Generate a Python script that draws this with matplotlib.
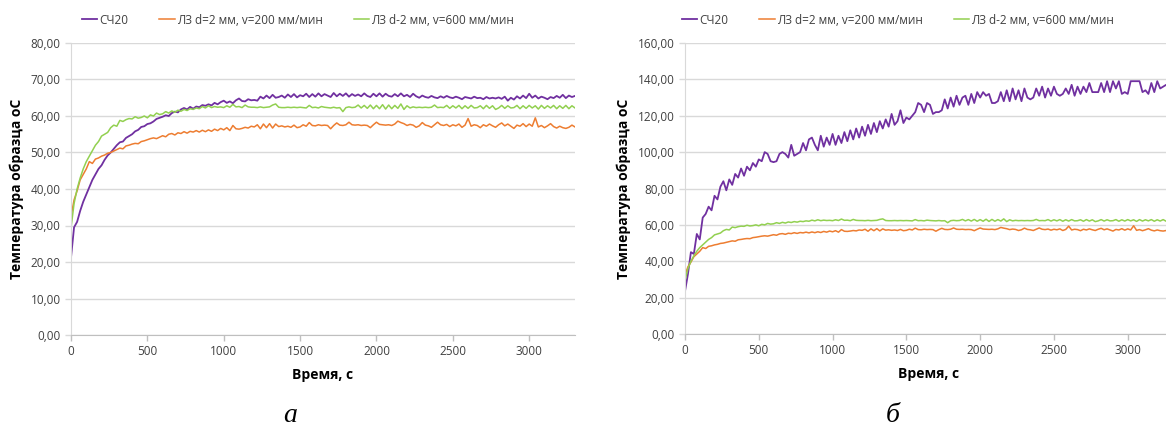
import numpy as np
import matplotlib
matplotlib.use("Agg")
import matplotlib.pyplot as plt
from matplotlib.ticker import FuncFormatter, MultipleLocator

# time of each sample, s
time_s = np.arange(0, 3301, 20)

# cast iron sample, series a
sch20_a = [
    21.2, 29.5, 31.0, 34.0, 36.5, 38.5, 40.5, 42.5, 44.0, 45.5,
    46.5, 48.0, 49.2, 50.0, 51.0, 52.0, 52.8, 53.0, 54.0, 54.5,
    55.0, 55.8, 56.2, 57.0, 57.2, 57.8, 58.0, 58.5, 59.2, 59.5,
    59.8, 60.2, 60.0, 60.8, 61.2, 61.0, 61.8, 62.2, 61.8, 62.5,
    62.0, 62.6, 62.4, 63.0, 62.8, 63.2, 62.9, 63.6, 63.2, 63.8,
    64.2, 63.6, 64.0, 63.5, 64.3, 64.8, 64.1, 64.0, 64.6, 64.3,
    64.4, 64.2, 65.3, 64.8, 65.6, 64.9, 65.8, 65.0, 65.2, 65.6,
    65.0, 65.9, 65.2, 66.0, 65.1, 65.7, 65.4, 66.1, 65.2, 66.0,
    65.3, 66.2, 65.4, 66.0, 65.6, 65.2, 66.3, 65.4, 66.1, 65.5,
    66.2, 65.3, 66.0, 65.5, 65.9, 65.4, 66.2, 65.5, 65.2, 66.1,
    65.4, 66.2, 65.3, 66.1, 65.5, 65.3, 66.0, 65.4, 66.2, 65.4,
    65.8, 65.2, 66.1, 65.4, 65.0, 65.6, 65.2, 65.0, 65.5, 65.1,
    64.9, 65.4, 65.0, 65.5, 65.1, 64.9, 65.3, 65.0, 64.6, 65.2,
    65.0, 64.8, 65.3, 64.9, 65.0, 64.6, 65.2, 64.8, 65.0, 64.8,
    65.1, 64.7, 65.3, 64.2, 65.0, 64.5, 65.4, 64.8, 65.6, 64.9,
    66.1, 65.0, 65.6, 64.8, 65.3, 65.0, 64.6, 65.2, 64.9, 65.5,
    65.0, 65.8, 64.9, 65.6, 65.2, 65.5,
]

# cast iron sample, series b
sch20_b = [
    23.5, 33.0, 45.0, 44.0, 55.0, 52.0, 64.0, 66.0, 70.0, 68.0,
    76.0, 74.0, 81.0, 84.0, 79.0, 85.0, 82.0, 88.0, 86.0, 91.0,
    87.0, 92.0, 90.0, 94.0, 92.0, 96.0, 95.0, 100.0, 99.0, 95.0,
    94.5, 95.0, 99.0, 100.0, 99.0, 97.0, 104.0, 98.0, 99.0, 100.0,
    105.0, 101.0, 107.0, 108.0, 104.0, 101.0, 109.0, 103.0, 108.0, 104.0,
    110.0, 104.0, 109.0, 105.0, 111.0, 106.0, 112.0, 107.0, 113.0, 108.0,
    114, 109, 115, 110, 116, 111, 117, 113, 118, 114,
    121, 115, 117, 123, 116, 119, 118, 120, 122, 127,
    126, 122, 127, 126, 121, 122, 122, 123, 129, 124,
    130, 125, 131, 126, 130, 131, 126, 132, 127, 133,
    130, 133, 131, 132, 127, 127, 128, 133, 128, 134,
    128, 135, 129, 134, 128, 135, 130, 129, 130, 135,
    131, 136, 130, 135, 131, 136, 132, 131, 132, 135,
    132, 137, 131, 136, 132, 136, 133, 138, 133, 133,
    133, 138, 133, 139, 133, 139, 135, 139, 132, 133,
    132, 139, 139, 139, 139, 133, 134, 132, 138, 133,
    139, 135, 136, 137, 135, 136,
]

# laser hardened, v = 200 mm/min
lz_200 = [
    32.4, 37.0, 39.5, 42.5, 44.0, 45.5, 47.5, 47.0, 48.2, 48.5,
    49.0, 49.3, 49.8, 50.0, 50.4, 50.8, 51.2, 51.0, 51.8, 52.0,
    52.3, 52.5, 52.4, 53.0, 53.2, 53.5, 53.8, 54.0, 53.8, 54.2,
    54.6, 54.3, 55.0, 55.2, 54.8, 55.4, 55.2, 55.7, 55.3, 55.8,
    55.6, 56.0, 55.6, 56.1, 55.7, 56.2, 55.8, 56.4, 56.0, 56.6,
    56.2, 56.8, 56.0, 57.4, 56.5, 56.4, 56.6, 56.9, 56.7, 57.2,
    57.0, 57.6, 56.5, 57.8, 56.8, 57.9, 56.7, 57.8, 57.1, 57.3,
    57.0, 57.2, 56.9, 57.5, 56.8, 57.0, 57.6, 57.2, 58.2, 57.4,
    57.3, 57.6, 57.4, 57.5, 57.4, 56.5, 57.4, 58.1, 57.5, 57.4,
    57.6, 58.3, 57.6, 57.5, 57.6, 57.4, 57.5, 57.4, 56.8, 57.6,
    58.3, 57.7, 57.6, 57.5, 57.6, 57.4, 57.8, 58.6, 58.2, 57.9,
    57.4, 57.7, 57.5, 56.9, 57.3, 58.2, 57.5, 57.3, 56.9, 57.6,
    58.3, 57.6, 57.4, 57.7, 57.1, 57.6, 57.3, 57.8, 56.9, 57.5,
    59.3, 57.2, 57.6, 57.4, 56.8, 57.6, 57.2, 57.8, 57.3, 56.9,
    57.6, 58.1, 57.3, 57.8, 57.2, 56.6, 57.5, 57.2, 57.9, 57.1,
    57.8, 57.2, 59.5, 57.0, 57.4, 56.8, 57.3, 57.9, 57.1, 56.7,
    57.2, 56.8, 56.6, 56.9, 57.5, 57.0,
]

# laser hardened, v = 600 mm/min
lz_600 = [
    29.3, 36.0, 40.0, 43.0, 45.5, 47.5, 49.0, 50.5, 52.0, 53.0,
    54.5, 55.0, 55.5, 56.8, 57.5, 57.2, 58.8, 58.5, 59.0, 59.3,
    59.2, 59.8, 59.4, 59.6, 60.0, 59.5, 60.3, 60.0, 60.8, 60.4,
    60.6, 61.2, 60.8, 61.4, 61.0, 61.6, 61.3, 61.8, 61.5, 62.0,
    61.8, 62.2, 62.0, 62.6, 62.2, 62.8, 62.3, 62.6, 62.4, 62.5,
    62.3, 62.8, 62.4, 63.2, 62.5, 62.6, 62.3, 63.0, 62.5, 62.4,
    62.4, 62.3, 62.5, 62.3, 62.4, 62.5, 63.0, 63.3, 62.4, 62.3,
    62.3, 62.4, 62.3, 62.4, 62.3, 62.4, 62.3, 62.2, 62.9, 62.3,
    62.4, 62.2, 62.6, 62.4, 62.3, 62.2, 62.4, 62.2, 62.3, 61.2,
    62.3, 62.5, 62.3, 62.4, 63.0, 62.2, 62.9, 62.1, 63.0, 62.0,
    62.9, 62.0, 63.1, 61.9, 63.0, 62.0, 62.9, 62.1, 63.3, 61.8,
    62.8, 62.2, 62.5, 62.3, 62.4, 62.3, 62.4, 62.3, 62.4, 63.0,
    62.3, 62.4, 62.3, 62.9, 62.1, 62.8, 62.2, 62.9, 62.0, 62.8,
    62.1, 62.9, 62.2, 62.3, 62.8, 62.0, 62.9, 62.1, 62.8, 61.8,
    62.2, 62.9, 62.1, 62.8, 62.2, 62.3, 62.9, 62.0, 62.8, 62.1,
    62.9, 62.2, 62.8, 61.9, 62.9, 62.1, 62.8, 62.2, 62.9, 62.0,
    62.8, 62.1, 62.9, 62.0, 62.8, 62.2,
]

labels = ["СЧ20", "ЛЗ d=2 мм, v=200 мм/мин", "ЛЗ d-2 мм, v=600 мм/мин"]
colors = ["#7030A0", "#ED7D31", "#92D050"]
grid_c = "#D9D9D9"
text_c = "#404040"

plt.rcParams["font.family"] = ["Open Sans", "DejaVu Sans"]

fig = plt.figure(figsize=(11.66, 4.28), dpi=100)
W, H = 1166.0, 428.0

def make_axes(x0, x1, y0, y1, ymax, ystep, cast_iron):
    ax = fig.add_axes([x0 / W, 1 - y1 / H, (x1 - x0) / W, (y1 - y0) / H])
    ax.plot(time_s, cast_iron, color=colors[0], lw=1.3, label=labels[0])
    ax.plot(time_s, lz_200, color=colors[1], lw=1.1, label=labels[1])
    ax.plot(time_s, lz_600, color=colors[2], lw=1.1, label=labels[2])
    ax.set_xlim(0, 3300)
    ax.set_ylim(0, ymax)
    ax.xaxis.set_major_locator(MultipleLocator(500))
    ax.yaxis.set_major_locator(MultipleLocator(ystep))
    ax.yaxis.set_major_formatter(FuncFormatter(lambda v, p: f"{v:.2f}".replace(".", ",")))
    ax.grid(axis="y", color=grid_c, lw=1.0)
    ax.set_axisbelow(True)
    for s in ["top", "right"]:
        ax.spines[s].set_visible(False)
    ax.spines["left"].set_color(grid_c)
    ax.spines["bottom"].set_color("#BFBFBF")
    ax.tick_params(axis="both", colors=grid_c, labelcolor=text_c, labelsize=8.5,
                   length=4, width=1)
    ax.tick_params(axis="x", colors="#BFBFBF", labelcolor=text_c)
    ax.set_xlabel("Время, с", fontsize=10, fontweight="bold", labelpad=7)
    ax.set_ylabel("Температура образца оС", fontsize=10, fontweight="bold", labelpad=5)
    return ax

ax1 = make_axes(71, 575, 43, 335, 80, 10, sch20_a)
ax2 = make_axes(685, 1172, 43, 334, 160, 20, sch20_b)

for ax, cx in [(ax1, 298), (ax2, 898)]:
    ax.legend(loc="center", bbox_to_anchor=(cx / W, 1 - 20 / H),
              bbox_transform=fig.transFigure, ncol=3, frameon=False,
              fontsize=8.5, handlelength=1.3, handletextpad=0.2, columnspacing=2.6,
              labelcolor=text_c)

fig.text(290 / W, 1 - 415 / H, "а", fontsize=20, style="italic",
         family="Liberation Serif", ha="center", va="center")
fig.text(893 / W, 1 - 415 / H, "б", fontsize=20, style="italic",
         family="Liberation Serif", ha="center", va="center")

fig.savefig("out.png", dpi=100)
